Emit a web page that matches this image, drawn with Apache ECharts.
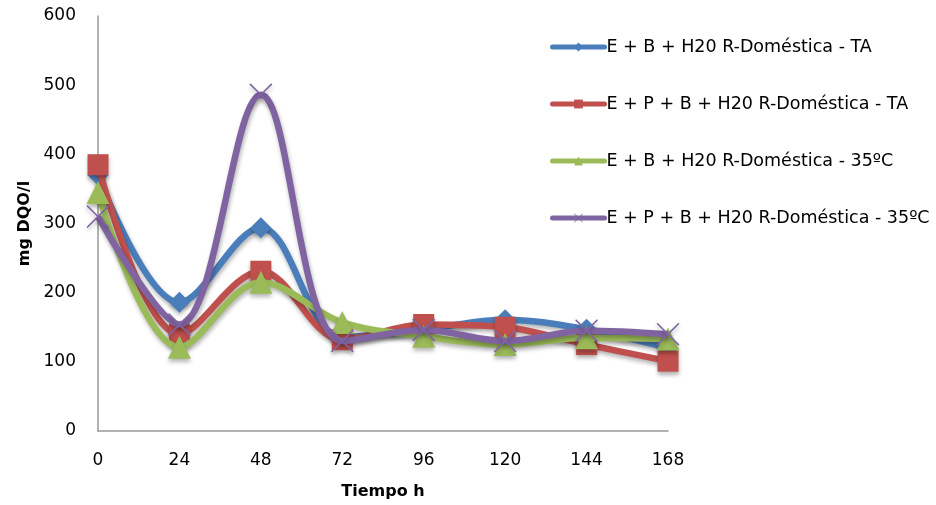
<!DOCTYPE html>
<html>
<head>
<meta charset="utf-8">
<script src="https://cdn.jsdelivr.net/npm/echarts@6/dist/echarts.min.js"></script>
<style>html,body{margin:0;padding:0;background:#fff}#c{width:936px;height:505px}</style>
</head>
<body>
<div id="c"></div>
<script>
const hours = [0, 24, 48, 72, 96, 120, 144, 168];
const yTicks = [0, 100, 200, 300, 400, 500, 600];
const names = [
  'E + B + H20 R-Doméstica - TA',
  'E + P + B + H20 R-Doméstica - TA',
  'E + B + H20 R-Doméstica - 35ºC',
  'E + P + B + H20 R-Doméstica - 35ºC'
];
const blueVals = [370, 186, 294, 136, 147, 161, 147, 120];
const redVals = [385, 140, 231, 132, 154, 150, 125, 101];
const greenVals = [345, 121, 215, 157, 137, 125, 135, 133];
const purpleVals = [310, 154, 486, 130, 146, 130, 145, 140];

const colors = ['#4A7EBB', '#C0504D', '#9BBB59', '#8064A2'];
const symbols = ['diamond', 'rect', 'triangle',
  'path://M0,1 L1,0 L10,9 L19,0 L20,1 L11,10 L20,19 L19,20 L10,11 L1,20 L0,19 L9,10 Z'];
const sizes = [21, 21, 23, 23];
const allVals = [blueVals, redVals, greenVals, purpleVals];

const font = 'DejaVu Sans, sans-serif';
const chart = echarts.init(document.getElementById('c'));
chart.setOption({
  animation: false,
  color: colors,
  grid: { left: 98, right: 268, top: 16, bottom: 73, containLabel: false },
  legend: {
    orient: 'vertical', left: 550, top: 38, itemGap: 39, padding: 0,
    itemWidth: 52, itemHeight: 11,
    lineStyle: { width: 5, cap: 'round' },
    textStyle: { fontFamily: font, fontSize: 17.5, color: '#000', padding: [0, 0, 0, -3] },
    data: names
  },
  xAxis: {
    type: 'value', min: 0, max: 168, interval: 24,
    name: 'Tiempo h', nameLocation: 'middle', nameGap: 53,
    nameTextStyle: { fontFamily: font, fontSize: 16, fontWeight: 'bold', color: '#000' },
    axisLine: { lineStyle: { color: '#999', width: 1.5 } },
    axisTick: { show: false },
    splitLine: { show: false },
    axisLabel: { margin: 21, fontFamily: font, fontSize: 17, color: '#000',
      formatter: v => hours.includes(v) ? String(v) : '' }
  },
  yAxis: {
    type: 'value', min: 0, max: 600, interval: 100,
    name: 'mg DQO/l', nameLocation: 'middle', nameGap: 64,
    nameTextStyle: { fontFamily: font, fontSize: 16, fontWeight: 'bold', color: '#000' },
    axisLine: { show: true, lineStyle: { color: '#999', width: 1.5 } },
    axisTick: { show: false },
    splitLine: { show: false },
    axisLabel: { margin: 22, fontFamily: font, fontSize: 17, color: '#000', padding: [4, 0, 0, 0],
      formatter: v => yTicks.includes(v) ? String(v) : '' }
  },
  series: names.map((n, i) => ({
    name: n, type: 'line', smooth: 0.35,
    data: hours.map((h, j) => [h, allVals[i][j]]),
    symbol: symbols[i], symbolSize: sizes[i], showAllSymbol: true,
    lineStyle: { width: 6.5, color: colors[i], shadowColor: 'rgba(0,0,0,0.3)', shadowBlur: 4, shadowOffsetY: 3, shadowOffsetX: 1 },
    itemStyle: { color: colors[i], shadowColor: 'rgba(0,0,0,0.3)', shadowBlur: 4, shadowOffsetY: 3 },
    z: 2 + i
  }))
});
</script>
</body>
</html>
